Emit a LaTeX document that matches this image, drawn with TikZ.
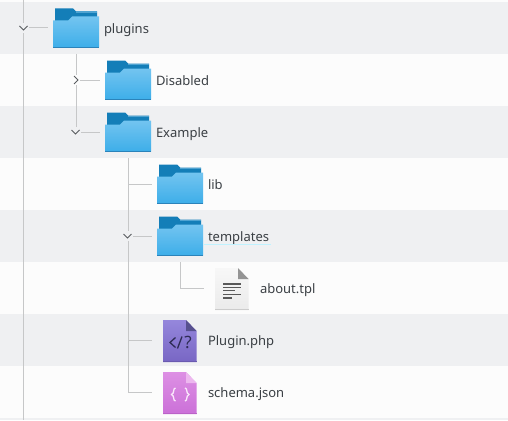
\documentclass[tikz,border=0pt]{standalone}
\usepackage{fontspec}
\setmainfont{Noto Sans}
\definecolor{band}{HTML}{EFF0F2}
\definecolor{bandw}{HTML}{FCFCFC}
\definecolor{treeline}{HTML}{C6C7C8}
\definecolor{txt}{HTML}{3A3F44}
\definecolor{fback}{HTML}{147EB8}
\definecolor{fbacklight}{HTML}{4FA3D1}
\definecolor{ftop}{HTML}{73C4F0}
\definecolor{fbot}{HTML}{3DAEE9}
\definecolor{fedge}{HTML}{2B83BA}
\definecolor{phptop}{HTML}{9587DC}
\definecolor{phpbot}{HTML}{7866C4}
\definecolor{phpedge}{HTML}{6A5AB0}
\definecolor{phpfold}{HTML}{57508F}
\definecolor{phpglyph}{HTML}{2E2C55}
\definecolor{jstop}{HTML}{DD90E4}
\definecolor{jsbot}{HTML}{CB70D8}
\definecolor{jsedge}{HTML}{BB62C8}
\definecolor{jsfold}{HTML}{EDB8EF}
\definecolor{jsglyph}{HTML}{FAE8FB}
\tikzset{
  x=1pt,y=-1pt,
  cell/.style={minimum width=52pt,minimum height=52pt,inner sep=0pt,outer sep=0pt},
  lab/.style={anchor=base west,inner sep=0pt,outer sep=0pt,text=txt,font=\fontsize{13pt}{16pt}\selectfont},
  conn/.style={draw=treeline,line width=1pt},
  chev/.style={draw=txt!85,line width=0.9pt},
  foldericon/.pic={
    \fill[fback] (-21,-19.5) -- (-3,-19.5) -- (0,-16.5) -- (21,-16.5) -- (21,-3) -- (-21,-3) -- cycle;
    \fill[fbacklight] (0,-16.5) -- (21,-16.5) -- (21,-15) -- (0,-15) -- cycle;
    \shade[top color=ftop,bottom color=fbot] (-23,-7.5) -- (-8,-7.5) -- (-4,-11.5) -- (23,-11.5) -- (23,19.5) -- (-23,19.5) -- cycle;
    \fill[fedge] (-23,19) rectangle (23,20.2);
  },
}
\begin{document}
\begin{tikzpicture}
\useasboundingbox (0,0) rectangle (508,420);
\fill[bandw] (0,0) rectangle (508,420);
\foreach \y in {2,106,210,314,418}{\fill[band] (0,\y) rectangle (508,{min(\y+52,420)});}
% named cells
\coordinate (rootT) at (23.5,0);
\coordinate (rootB) at (23.5,420);
\node[cell] (plugins) at (76,28) {};
\node[cell] (disabled) at (128,80) {};
\node[cell] (example) at (128,132) {};
\node[cell] (lib) at (180,184) {};
\node[cell] (templates) at (180,236) {};
\node[cell] (about) at (232,288) {};
\node[cell] (plugin) at (180,340) {};
\node[cell] (schema) at (180,392) {};
% connectors
\draw[conn] (rootT) -- (rootB);
\draw[conn] (rootT |- plugins.west) -- ([xshift=-2pt]plugins.west);
\draw[conn] (plugins.south) -- (plugins.south |- example.west) -- ([xshift=-2pt]example.west);
\draw[conn] (plugins.south |- disabled.west) -- ([xshift=-2pt]disabled.west);
\draw[conn] (example.south) -- (example.south |- schema.west) -- ([xshift=-2pt]schema.west);
\draw[conn] (example.south |- lib.west) -- ([xshift=-2pt]lib.west);
\draw[conn] (example.south |- templates.west) -- ([xshift=-2pt]templates.west);
\draw[conn] (example.south |- plugin.west) -- ([xshift=-2pt]plugin.west);
\draw[conn] (templates.south) -- (templates.south |- about.west) -- ([xshift=-2pt]about.west);
% chevrons
\fill[band] (18,23) rectangle (29,33);
\fill[band] (70,127) rectangle (81,137);
\fill[band] (122,231) rectangle (133,241);
\fill[bandw] (71,75) rectangle (80,85);
\draw[chev] (19.5,26) -- (23.5,30) -- (27.5,26);
\draw[chev] (71.5,130) -- (75.5,134) -- (79.5,130);
\draw[chev] (123.5,234) -- (127.5,238) -- (131.5,234);
\draw[chev] (74,76) -- (78,80) -- (74,84);
% icons
\foreach \n in {plugins,disabled,example,lib,templates}{\pic at (\n) {foldericon};}
% about.tpl
\shade[top color=black!3,bottom color=black!8] (215,268) -- (238,268) -- (248.5,279) -- (248.5,310) -- (215,310) -- cycle;
\fill[black!20] (215,309) rectangle (248.5,310);
\fill[black!42] (238,268) -- (248.5,279) -- (238,279) -- cycle;
\foreach \yy/\w in {283/18.5,286.5/18.5,289.5/12.5,293.5/18.5,297/9}{\fill[black!65] (222.7,\yy) rectangle ++(\w,1.6);}
% Plugin.php
\shade[top color=phptop,bottom color=phpbot] (163,320) -- (186,320) -- (196.5,331) -- (196.5,362) -- (163,362) -- cycle;
\fill[phpedge] (163,361) rectangle (196.5,362);
\fill[phpfold] (186,320) -- (196.5,331) -- (186,331) -- cycle;
\draw[phpglyph,line width=1.3pt] (175.5,337.5) -- (170,342.5) -- (175.5,347.5);
\draw[phpglyph,line width=1.3pt] (182,336.5) -- (177.5,348.5);
\node[inner sep=0pt,text=phpglyph,font=\fontsize{17pt}{17pt}\selectfont] (phpmark) at (188,342.5) {?};
% schema.json
\shade[top color=jstop,bottom color=jsbot] (163,372) -- (186,372) -- (196.5,383) -- (196.5,414) -- (163,414) -- cycle;
\fill[jsedge] (163,413) rectangle (196.5,414);
\fill[jsfold] (186,372) -- (196.5,383) -- (186,383) -- cycle;
\draw[jsglyph,line width=1.3pt] (175.5,388) .. controls (172.5,388.5) and (175,393) .. (171.5,394.5) .. controls (175,396) and (172.5,400.5) .. (175.5,401);
\draw[jsglyph,line width=1.3pt] (185,388) .. controls (188,388.5) and (185.5,393) .. (189,394.5) .. controls (185.5,396) and (188,400.5) .. (185,401);
% labels
\node[lab] (tplugins) at (104,33.5) {plugins};
\node[lab] (tdisabled) at (156,85) {Disabled};
\node[lab] (texample) at (156,137) {Example};
\node[lab] (tlib) at (208,189) {lib};
\node[lab] (ttemplates) at (208,241) {templates};
\node[lab] (tabout) at (260,293) {about.tpl};
\node[lab] (tplugin) at (208,345) {Plugin.php};
\node[lab] (tschema) at (208,397) {schema.json};
\fill[blue!20!cyan!25!white] (204,244) rectangle (271,245);
\end{tikzpicture}
\end{document}
